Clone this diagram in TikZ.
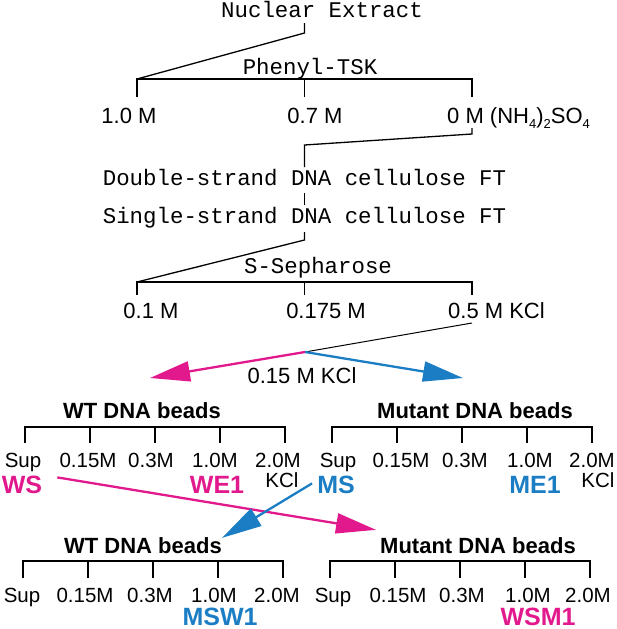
\documentclass[tikz,border=0pt]{standalone}
\usepackage{fontspec}
\setmainfont{Liberation Sans}
\setmonofont{Liberation Mono}
\usepackage{tikz}
\usetikzlibrary{calc,positioning,arrows.meta}
\definecolor{beadpink}{HTML}{E2188D}
\definecolor{beadblue}{HTML}{1B7EC5}
\newcommand{\lowsub}[1]{\raisebox{-0.45ex}{\fontsize{13}{13}\selectfont #1}}

\begin{document}
\begin{tikzpicture}[
        x=1pt, y=-1pt,
        colstyle/.style={font=\ttfamily\fontsize{22.4}{26}\selectfont, inner sep=0pt, anchor=base},
        concstyle/.style={font=\fontsize{22}{26}\selectfont, inner sep=0pt, anchor=base},
        fracstyle/.style={font=\fontsize{20.5}{24}\selectfont, inner sep=0pt, anchor=base},
        beadstyle/.style={font=\bfseries\fontsize{22}{26}\selectfont, inner sep=0pt, anchor=base},
        poolstyle/.style={font=\bfseries\fontsize{25}{28}\selectfont, inner sep=0pt, anchor=base},
        barstyle/.style={line width=2.8pt},
        tickstyle/.style={line width=1.6pt},
        linkstyle/.style={line width=1.3pt},
        pathstyle/.style={line width=2.3pt, -{Triangle[length=40pt,width=20pt]}}
      ]
        \useasboundingbox (0,0) rectangle (617,629);

        \node[colstyle] (NE) at (322,17)
          {Nuclear Extract};
        \coordinate (PHL) at (137,79);
        \coordinate (PHR) at (472,79);
        \coordinate (PHM) at ($(PHL)!0.5!(PHR)$);
        \node[colstyle] (PHENYL) at (310,74)
          {Phenyl-TSK};
        \draw[barstyle] ($(PHL)+(-0.8,0)$) -- ($(PHR)+(0.8,0)$);
        \draw[tickstyle] (PHL) -- ++(0,18) (PHM) -- ++(0,18) (PHR) -- ++(0,18);
        \node[concstyle] (P10) at (129,123)
          {1.0 M};
        \node[concstyle] (P07) at (315,123)
          {0.7 M};
        \node[concstyle, anchor=base west] (P0) at (447,123)
          {0 M (NH\lowsub{4})\lowsub{2}SO\lowsub{4}};

        \node[colstyle] (DS) at (304.5,185)
          {Double-strand DNA cellulose FT};
        \node[colstyle] (SS) at (304.5,223)
          {Single-strand DNA cellulose FT};

        \coordinate (SSL) at (137,282);
        \coordinate (SSR) at (472,282);
        \coordinate (SSM) at ($(SSL)!0.5!(SSR)$);
        \node[colstyle] (SSEPH) at (318,273)
          {S-Sepharose};
        \draw[barstyle] ($(SSL)+(-0.8,0)$) -- ($(SSR)+(0.8,0)$);
        \draw[tickstyle] (SSL) -- ++(0,13) (SSM) -- ++(0,13) (SSR) -- ++(0,13);
        \node[concstyle] (S01) at (151,318)
          {0.1 M};
        \node[concstyle] (S0175) at (326,318)
          {0.175 M};
        \node[concstyle, anchor=base west] (S05) at (448,318)
          {0.5 M KCl};

        \draw[linkstyle] ($(NE.base -| PHM)+(0,6)$) -- ++(0,10) -- (PHL);
        \draw[linkstyle] ($(P0.base -| PHR)+(0,5)$) -- ++(0,6) -- ($(DS.base -| PHM)+(0,-40)$) -- ($(DS.base -| PHM)+(0,-18)$);
        \draw[linkstyle] ($(DS.base -| PHM)+(0,8)$) -- ($(SS.base -| PHM)+(0,-18)$);
        \draw[linkstyle] ($(SS.base -| SSM)+(0,9)$) -- ++(0,8) -- (SSL);

        \coordinate (JN) at (305,352);
        \coordinate (PTIP) at (150,378);
        \coordinate (BTIP) at (463,378);
        \node[concstyle] (KCL15) at (302,383)
          {0.15 M KCl};
        \draw[line width=1pt] ($(S05.base -| SSR)+(0,5)$) -- (JN);
        \draw[pathstyle, beadpink] (JN) -- (PTIP);
        \draw[pathstyle, beadblue] (JN) -- (BTIP);

        % WT / mutant beads, first round
        \node[beadstyle] (WTA) at (142,418)
          {WT DNA beads};
        \draw[barstyle] (24.2,427) -- (285.8,427);
        \draw[tickstyle] (25,427) -- ++(0,16) (90,427) -- ++(0,16) (155,427) -- ++(0,16) (220,427) -- ++(0,16) (285,427) -- ++(0,16);
        \node[fracstyle] (WTASUP) at (23,467)
          {Sup};
        \node[fracstyle] (WTA015) at (88,467)
          {0.15M};
        \node[fracstyle] (WTA03) at (151,467)
          {0.3M};
        \node[fracstyle] (WTA10) at (215,467)
          {1.0M};
        \node[fracstyle] (WTA20) at (278,467)
          {2.0M};
        \node[fracstyle] (WTAKCL) at (282,487)
          {KCl};
        \node[poolstyle, beadpink] (WS) at (22,493)
          {WS};
        \node[poolstyle, beadpink] (WE1) at (217,493)
          {WE1};

        \node[beadstyle] (MTA) at (475,418)
          {Mutant DNA beads};
        \draw[barstyle] (331.2,427) -- (592.8,427);
        \draw[tickstyle] (332,427) -- ++(0,16) (397,427) -- ++(0,16) (462,427) -- ++(0,16) (527,427) -- ++(0,16) (592,427) -- ++(0,16);
        \node[fracstyle] (MTASUP) at (338,467)
          {Sup};
        \node[fracstyle] (MTA015) at (401,467)
          {0.15M};
        \node[fracstyle] (MTA03) at (465,467)
          {0.3M};
        \node[fracstyle] (MTA10) at (530,467)
          {1.0M};
        \node[fracstyle] (MTA20) at (592,467)
          {2.0M};
        \node[fracstyle] (MTAKCL) at (598,487)
          {KCl};
        \node[poolstyle, beadblue] (MS) at (336,493)
          {MS};
        \node[poolstyle, beadblue] (ME1) at (535,493)
          {ME1};

        % second round
        \node[beadstyle] (WTB) at (143,553)
          {WT DNA beads};
        \draw[barstyle] (22.2,561) -- (283.8,561);
        \draw[tickstyle] (23,561) -- ++(0,17) (88,561) -- ++(0,17) (153,561) -- ++(0,17) (218,561) -- ++(0,17) (283,561) -- ++(0,17);
        \node[fracstyle] (WTBSUP) at (22,602)
          {Sup};
        \node[fracstyle] (WTB015) at (85,602)
          {0.15M};
        \node[fracstyle] (WTB03) at (150,602)
          {0.3M};
        \node[fracstyle] (WTB10) at (214,602)
          {1.0M};
        \node[fracstyle] (WTB20) at (277,602)
          {2.0M};
        \node[poolstyle, beadblue] (MSW1) at (220,625)
          {MSW1};

        \node[beadstyle] (MTB) at (478,553)
          {Mutant DNA beads};
        \draw[barstyle] (329.2,561) -- (590.8,561);
        \draw[tickstyle] (330,561) -- ++(0,17) (395,561) -- ++(0,17) (460,561) -- ++(0,17) (525,561) -- ++(0,17) (590,561) -- ++(0,17);
        \node[fracstyle] (MTBSUP) at (333,602)
          {Sup};
        \node[fracstyle] (MTB015) at (398,602)
          {0.15M};
        \node[fracstyle] (MTB03) at (462,602)
          {0.3M};
        \node[fracstyle] (MTB10) at (528,602)
          {1.0M};
        \node[fracstyle] (MTB20) at (588,602)
          {2.0M};
        \node[poolstyle, beadpink] (WSM1) at (538,625)
          {WSM1};

        \draw[pathstyle, beadpink] ($(WS.east)+(15,-7)$) -- ($(MTB.north west)+(-4,-7)$);
        \draw[pathstyle, beadblue] ($(MS.west)+(-5,-1)$) -- ($(WTB.north east)+(0,1)$);
      \end{tikzpicture}
\end{document}
